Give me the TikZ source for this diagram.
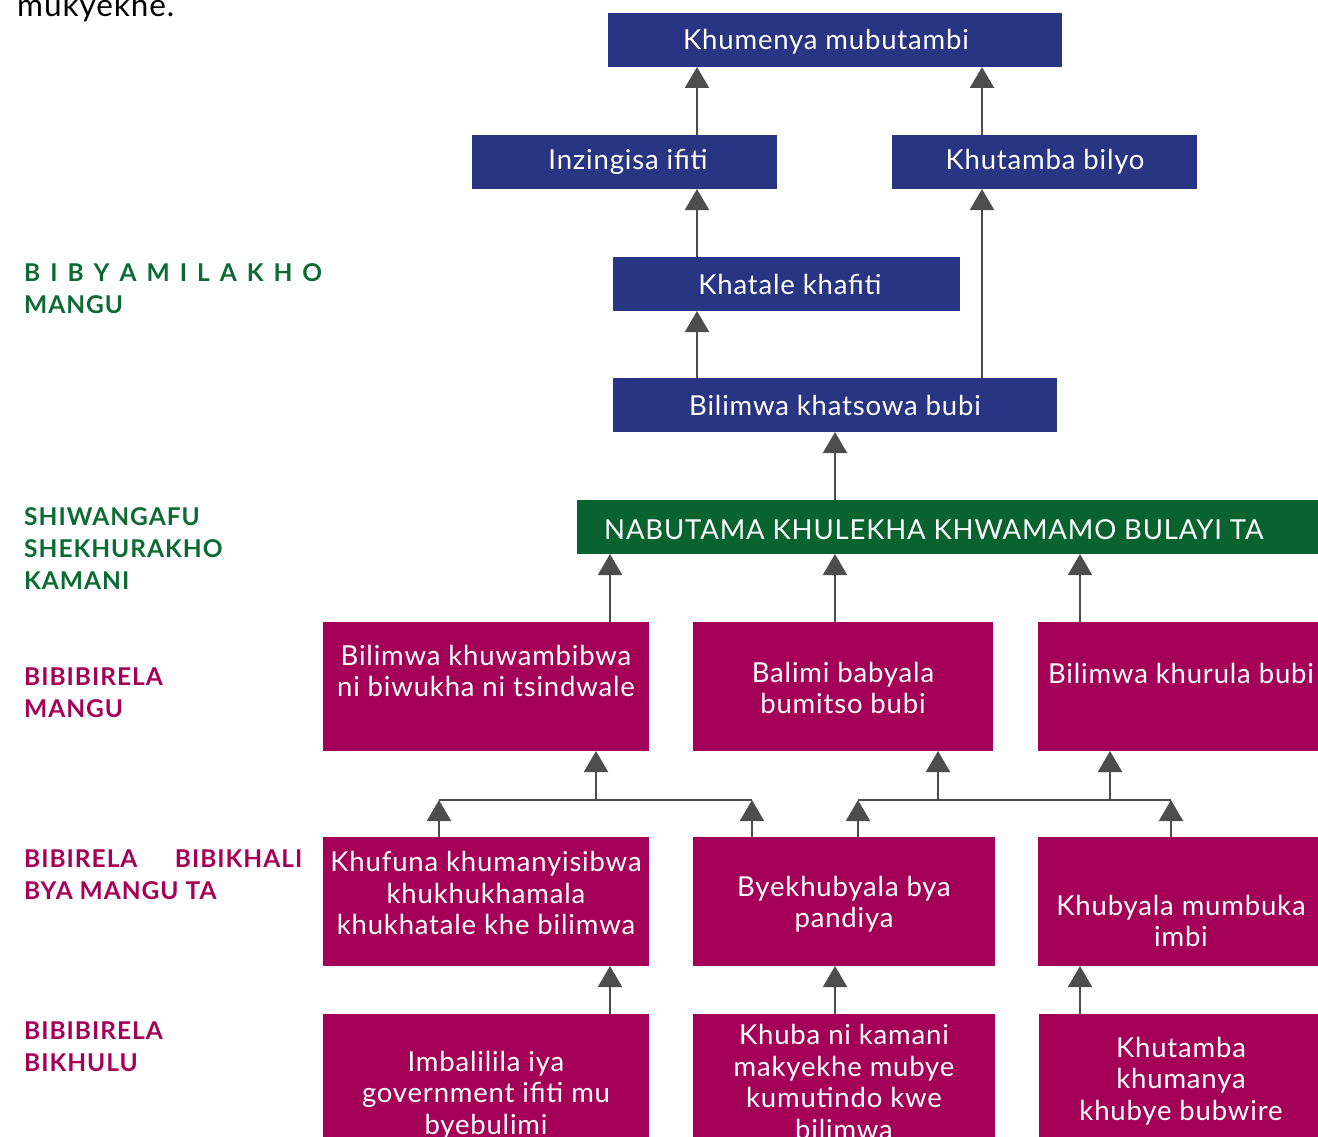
\documentclass[tikz,border=0pt]{standalone}
\usepackage{fontspec}
\setmainfont{Lato}
\newfontfamily\boxfont{Lato}[LetterSpace=3]
\newfontfamily\lblfont{Lato}[LetterSpace=4]
\usetikzlibrary{arrows.meta}
\definecolor{boxblue}{HTML}{283583}
\definecolor{boxgreen}{HTML}{08632F}
\definecolor{boxmag}{HTML}{A50057}
\definecolor{lblgreen}{HTML}{0B6B33}
\definecolor{lblmag}{HTML}{A50057}
\definecolor{arrcol}{HTML}{4D4D4D}
\begin{document}
\begin{tikzpicture}[x=1pt,y=-1pt,
  rbox/.style={inner sep=0pt,outer sep=0pt,anchor=north west,draw=none},
  bluebox/.style={rbox,fill=boxblue},
  greenbox/.style={rbox,fill=boxgreen},
  magbox/.style={rbox,fill=boxmag},
  btxt/.style={text=white,font=\boxfont\fontsize{27.5}{31.5}\selectfont,align=center,inner sep=0pt,yshift=-2pt},
  lbl/.style={anchor=base west,inner sep=0pt,align=left,font=\lblfont\bfseries\fontsize{24.5}{32}\selectfont},
  arr/.style={draw=arrcol,line width=2pt,-{Triangle[width=24pt,length=21pt]}},
  ln/.style={draw=arrcol,line width=2pt}
]
\useasboundingbox (0,0) rectangle (1318,1137);
\clip (0,0) rectangle (1318,1137);

% top-left text
\node[anchor=base west,inner sep=0pt,font=\boxfont\fontsize{31.5}{34}\selectfont] (cut) at (17,17) {mukyekhe.};

% blue boxes
\node[bluebox,minimum width=454,minimum height=54] (top) at (608,13) {};
\node[btxt] (toptx) at (826,40) {Khumenya mubutambi};
\node[bluebox,minimum width=305,minimum height=54] (inz) at (472,135) {};
\node[btxt] (inztx) at (628,160) {Inzingisa ifiti};
\node[bluebox,minimum width=305,minimum height=54] (khu) at (892,135) {};
\node[btxt] (khutx) at (1045,160) {Khutamba bilyo};
\node[bluebox,minimum width=347,minimum height=54] (kha) at (613,257) {};
\node[btxt] (khatx) at (790,282) {Khatale khafiti};
\node[bluebox,minimum width=444,minimum height=54] (bil) at (613,378) {};
\node[btxt] (biltx) at (835,403) {Bilimwa khatsowa bubi};

% green box
\node[greenbox,minimum width=741,minimum height=54] (grn) at (577,500) {};
\node[btxt,anchor=west] (grntx) at (604,528) {NABUTAMA KHULEKHA KHWAMAMO BULAYI TA};

% row 1
\node[magbox,minimum width=326,minimum height=129] (r1a) at (323,622) {};
\node[btxt] (r1atx) at (486,669) {Bilimwa khuwambibwa\\ni biwukha ni tsindwale};
\node[magbox,minimum width=300,minimum height=129] (r1b) at (693,622) {};
\node[btxt] (r1btx) at (843,686) {Balimi babyala\\bumitso bubi};
\node[magbox,minimum width=280,minimum height=129] (r1c) at (1038,622) {};
\node[btxt] (r1ctx) at (1181,671) {Bilimwa khurula bubi};

% row 2
\node[magbox,minimum width=326,minimum height=129] (r2a) at (323,837) {};
\node[btxt] (r2atx) at (486,891) {Khufuna khumanyisibwa\\khukhukhamala\\khukhatale khe bilimwa};
\node[magbox,minimum width=302,minimum height=129] (r2b) at (693,837) {};
\node[btxt] (r2btx) at (844,902) {Byekhubyala bya\\pandiya};
\node[magbox,minimum width=280,minimum height=129] (r2c) at (1038,837) {};
\node[btxt] (r2ctx) at (1181,919) {Khubyala mumbuka\\imbi};

% row 3
\node[magbox,minimum width=326,minimum height=160] (r3a) at (323,1014) {};
\node[btxt] (r3atx) at (486,1093) {Imbalilila iya\\government ifiti mu\\byebulimi};
\node[magbox,minimum width=302,minimum height=160] (r3b) at (693,1014) {};
\node[btxt] (r3btx) at (844,1080) {Khuba ni kamani\\makyekhe mubye\\kumutindo kwe\\bilimwa};
\node[magbox,minimum width=279,minimum height=160] (r3c) at (1039,1014) {};
\node[btxt] (r3ctx) at (1181,1079) {Khutamba\\khumanya\\khubye bubwire};

% left labels (base = last line baseline)
\node[lbl,text=lblgreen] (l1) at (24,313) {\makebox[298pt][s]{B I B Y A M I L A K H O}\\MANGU};
\node[lbl,text=lblgreen] (l2) at (24,589) {SHIWANGAFU\\SHEKHURAKHO\\KAMANI};
\node[lbl,text=lblmag] (l3) at (24,717) {BIBIBIRELA\\MANGU};
\node[lbl,text=lblmag] (l4) at (24,899) {\makebox[278pt][s]{BIBIRELA BIBIKHALI}\\BYA MANGU TA};
\node[lbl,text=lblmag] (l5) at (24,1071) {BIBIBIRELA\\BIKHULU};

% x positions of connectors
\coordinate (xa) at (697,0);
\coordinate (xb) at (982,0);
\coordinate (xc) at (835,0);
\coordinate (xd) at (610,0);
\coordinate (xe) at (1080,0);
\coordinate (xf) at (596,0);
\coordinate (xg) at (938,0);
\coordinate (xh) at (1110,0);
\coordinate (xi) at (439,0);
\coordinate (xj) at (752,0);
\coordinate (xk) at (858,0);
\coordinate (xl) at (1171,0);
\coordinate (jy) at (0,800);

% upper connectors
\draw[arr] (xa |- inz.north) -- (xa |- top.south);
\draw[arr] (xb |- khu.north) -- (xb |- top.south);
\draw[arr] (xa |- kha.north) -- (xa |- inz.south);
\draw[arr] (xa |- bil.north) -- (xa |- kha.south);
\draw[arr] (xb |- bil.north) -- (xb |- khu.south);
\draw[arr] (xc |- grn.north) -- (xc |- bil.south);

% row1 -> green
\draw[arr] (xd |- r1a.north) -- (xd |- grn.south);
\draw[arr] (xc |- r1b.north) -- (xc |- grn.south);
\draw[arr] (xe |- r1c.north) -- (xe |- grn.south);

% row2 -> row1 brackets
\draw[ln] (xi |- jy) -- (xj |- jy);
\draw[arr] (xi |- r2a.north) -- (xi |- jy);
\draw[arr] (xj |- r2b.north) -- (xj |- jy);
\draw[arr] (xf |- jy) -- (xf |- r1a.south);
\draw[ln] (xk |- jy) -- (xl |- jy);
\draw[arr] (xk |- r2b.north) -- (xk |- jy);
\draw[arr] (xl |- r2c.north) -- (xl |- jy);
\draw[arr] (xg |- jy) -- (xg |- r1b.south);
\draw[arr] (xh |- jy) -- (xh |- r1c.south);

% row3 -> row2
\draw[arr] (xd |- r3a.north) -- (xd |- r2a.south);
\draw[arr] (xc |- r3b.north) -- (xc |- r2b.south);
\draw[arr] (xe |- r3c.north) -- (xe |- r2c.south);
\end{tikzpicture}
\end{document}
